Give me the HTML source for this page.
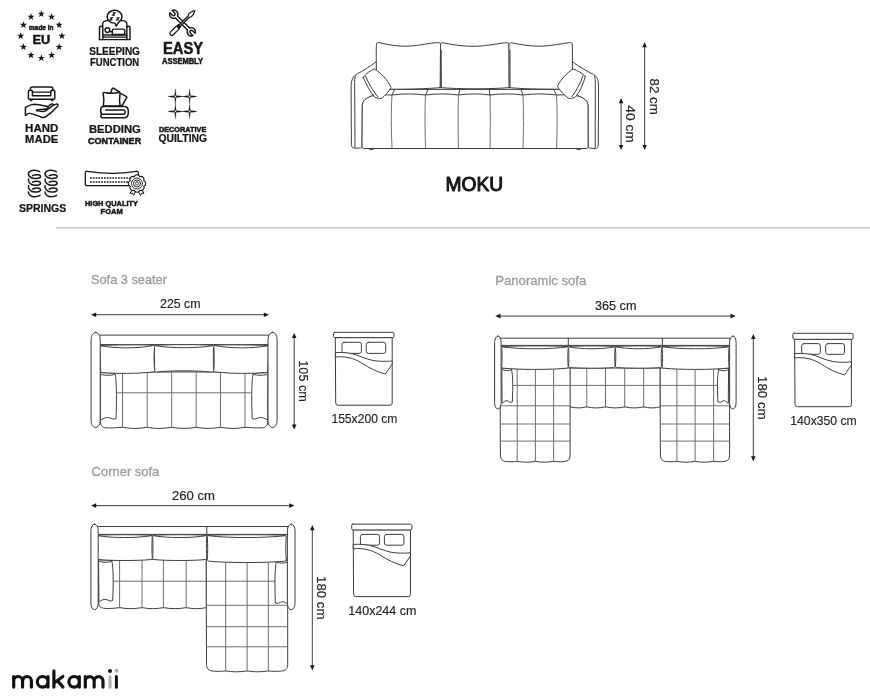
<!DOCTYPE html>
<html>
<head>
<meta charset="utf-8">
<title>MOKU</title>
<style>
html,body{margin:0;padding:0;background:#fff;}
body{width:870px;height:700px;overflow:hidden;font-family:"Liberation Sans",sans-serif;}
svg{display:block;position:absolute;left:0;top:0;will-change:transform;}
text{font-family:"Liberation Sans",sans-serif;}
.ic{fill:#161616;font-weight:bold;stroke:#161616;stroke-width:0.22;stroke-linejoin:round;}
.hv{stroke-width:0.5;}
.dim{fill:#262626;font-size:13.6px;stroke:#262626;stroke-width:0.18;}
.ttl{fill:#9c9c9c;font-size:12.8px;stroke:#9c9c9c;stroke-width:0.32;}
.ln{fill:none;stroke:#3e3e3e;stroke-width:1;stroke-linecap:round;stroke-linejoin:round;}
.ln2{fill:none;stroke:#6e6e6e;stroke-width:1;stroke-linecap:round;stroke-linejoin:round;}
.wf{fill:#fff;stroke:#3e3e3e;stroke-width:1;stroke-linecap:round;stroke-linejoin:round;}
.ar{fill:none;stroke:#2a2a2a;stroke-width:0.9;}
.ah{fill:#1c1c1c;stroke:none;}
.ik{fill:none;stroke:#161616;stroke-linecap:round;stroke-linejoin:round;}
</style>
</head>
<body>
<svg width="870" height="700" viewBox="0 0 870 700">
<rect x="0" y="0" width="870" height="700" fill="#ffffff"/>

<!-- divider -->
<line x1="56" y1="227.7" x2="870" y2="227.7" stroke="#c9c9c9" stroke-width="1.6"/>

<!-- ===== TEXT: feature icons ===== -->
<g id="t-icons">
<text class="ic hv" x="29.1" y="30.3" font-size="6.6" textLength="24.4" lengthAdjust="spacingAndGlyphs">made in</text>
<text class="ic hv" x="32.4" y="44.3" font-size="13.5" textLength="17.8" lengthAdjust="spacingAndGlyphs">EU</text>
<text class="ic" x="89.3" y="54.7" font-size="10.5" textLength="50.6" lengthAdjust="spacingAndGlyphs">SLEEPING</text>
<text class="ic" x="90" y="65.7" font-size="10.5" textLength="49.2" lengthAdjust="spacingAndGlyphs">FUNCTION</text>
<text class="ic hv" x="162.9" y="53.9" font-size="16.4" textLength="40.2" lengthAdjust="spacingAndGlyphs">EASY</text>
<text class="ic hv" x="162" y="63.6" font-size="8.3" textLength="41" lengthAdjust="spacingAndGlyphs">ASSEMBLY</text>
<text class="ic" x="25.1" y="131.6" font-size="10.4" textLength="33.3" lengthAdjust="spacingAndGlyphs">HAND</text>
<text class="ic" x="25.1" y="142.7" font-size="10.4" textLength="33.3" lengthAdjust="spacingAndGlyphs">MADE</text>
<text class="ic" x="88.9" y="133.3" font-size="10.8" textLength="51.9" lengthAdjust="spacingAndGlyphs">BEDDING</text>
<text class="ic hv" x="88" y="143.9" font-size="9.2" textLength="53.2" lengthAdjust="spacingAndGlyphs">CONTAINER</text>
<text class="ic hv" x="158.9" y="131.6" font-size="7.4" textLength="47.4" lengthAdjust="spacingAndGlyphs">DECORATIVE</text>
<text class="ic" x="158.4" y="142.3" font-size="10.7" textLength="48.7" lengthAdjust="spacingAndGlyphs">QUILTING</text>
<text class="ic" x="18.9" y="212.4" font-size="11.4" textLength="47.3" lengthAdjust="spacingAndGlyphs">SPRINGS</text>
<text class="ic hv" x="85" y="205.6" font-size="7.9" textLength="52.9" lengthAdjust="spacingAndGlyphs">HIGH QUALITY</text>
<text class="ic hv" x="100.6" y="214.2" font-size="7.9" textLength="22.3" lengthAdjust="spacingAndGlyphs">FOAM</text>
</g>

<!-- ===== TEXT: titles and dimensions ===== -->
<g id="t-main">
<text x="445.5" y="190.9" font-size="20" font-weight="normal" fill="#161616" stroke="#161616" stroke-width="1.05" stroke-linejoin="round" textLength="57.6" lengthAdjust="spacingAndGlyphs">MOKU</text>

<text class="dim" transform="translate(650.2,78.5) rotate(90)" textLength="36.4" lengthAdjust="spacingAndGlyphs">82 cm</text>
<text class="dim" transform="translate(626,105.2) rotate(90)" textLength="37.7" lengthAdjust="spacingAndGlyphs">40 cm</text>

<text class="ttl" x="91" y="283.8" textLength="75.9" lengthAdjust="spacingAndGlyphs">Sofa 3 seater</text>
<text class="dim" x="160" y="308.2" textLength="40.6" lengthAdjust="spacingAndGlyphs">225 cm</text>
<text class="dim" transform="translate(299,360.3) rotate(90)" textLength="41.6" lengthAdjust="spacingAndGlyphs">105 cm</text>
<text class="dim" x="331.4" y="422.9" textLength="66" lengthAdjust="spacingAndGlyphs">155x200 cm</text>

<text class="ttl" x="495.3" y="285.3" textLength="91" lengthAdjust="spacingAndGlyphs">Panoramic sofa</text>
<text class="dim" x="595" y="310.2" textLength="41.4" lengthAdjust="spacingAndGlyphs">365 cm</text>
<text class="dim" transform="translate(758.2,376.1) rotate(90)" textLength="43.5" lengthAdjust="spacingAndGlyphs">180 cm</text>
<text class="dim" x="790.3" y="424.5" textLength="66.4" lengthAdjust="spacingAndGlyphs">140x350 cm</text>

<text class="ttl" x="91.6" y="476.3" textLength="67.7" lengthAdjust="spacingAndGlyphs">Corner sofa</text>
<text class="dim" x="172" y="500.2" textLength="43" lengthAdjust="spacingAndGlyphs">260 cm</text>
<text class="dim" transform="translate(316.9,576.1) rotate(90)" textLength="43.3" lengthAdjust="spacingAndGlyphs">180 cm</text>
<text class="dim" x="348.3" y="615.0" textLength="68.1" lengthAdjust="spacingAndGlyphs">140x244 cm</text>
</g>

<!-- ===== ARROWS ===== -->
<g id="arrows">
<!-- 82 cm -->
<line class="ar" x1="644.6" y1="45" x2="644.6" y2="147"/>
<path class="ah" d="M644.6 42.1 l2.3 5.2 h-4.6z M644.6 150.1 l2.3 -5.2 h-4.6z"/>
<!-- 40 cm -->
<line class="ar" x1="621.1" y1="101" x2="621.1" y2="147"/>
<path class="ah" d="M621.1 98 l2.3 5.2 h-4.6z M621.1 150.1 l2.3 -5.2 h-4.6z"/>
<!-- 225 cm -->
<line class="ar" x1="94" y1="314.7" x2="266" y2="314.7"/>
<path class="ah" d="M91 314.7 l5.2 -2.3 v4.6z M269 314.7 l-5.2 -2.3 v4.6z"/>
<!-- 105 cm -->
<line class="ar" x1="294.2" y1="336" x2="294.2" y2="427"/>
<path class="ah" d="M294.2 332.9 l2.3 5.2 h-4.6z M294.2 429.7 l2.3 -5.2 h-4.6z"/>
<!-- 365 cm -->
<line class="ar" x1="498" y1="316.1" x2="733" y2="316.1"/>
<path class="ah" d="M495.3 316.1 l5.2 -2.3 v4.6z M735.7 316.1 l-5.2 -2.3 v4.6z"/>
<!-- 180 cm (panoramic) -->
<line class="ar" x1="753.3" y1="337" x2="753.3" y2="458"/>
<path class="ah" d="M753.3 333.9 l2.3 5.2 h-4.6z M753.3 461.4 l2.3 -5.2 h-4.6z"/>
<!-- 260 cm -->
<line class="ar" x1="94" y1="505.6" x2="291" y2="505.6"/>
<path class="ah" d="M91 505.6 l5.2 -2.3 v4.6z M294.4 505.6 l-5.2 -2.3 v4.6z"/>
<!-- 180 cm (corner) -->
<line class="ar" x1="312.3" y1="528" x2="312.3" y2="667"/>
<path class="ah" d="M312.3 525.1 l2.3 5.2 h-4.6z M312.3 670.4 l2.3 -5.2 h-4.6z"/>
</g>

<g id="sofa-front">
<!-- arms outer -->
<path class="wf" d="M376.3 61.6 C370 66.5 362 71.5 357.6 73.6 C353.2 75.8 351.2 80 351.1 86 L351.4 144.6 C351.5 147 352.6 148.1 354.6 148.2 L360.6 148 C361.6 147.9 362 147.2 362 146.2 L362.3 106 C362.4 102 364 99.5 369.7 96.8 L372 95.5 L376.3 88 Z"/>
<path class="ln" d="M355.2 76.2 C354.4 80 354.6 84 354.7 90 L355 147.5"/>
<path class="wf" d="M572.3 61.6 C578.5 66.5 588 71.8 593.7 74.6 C597.3 76.6 598.5 80 598.5 86 L598.3 144.8 C598.2 147.4 597.2 148.5 595.6 148.7 L589.4 148 C588.4 147.8 588.1 147.1 588.1 146.2 L588 106 C587.9 102 586 99.5 580.4 96.8 L578 95.5 L572.3 88 Z"/>
<path class="ln" d="M594.6 76 C595.5 80 595.3 84 595.3 90 L595.2 147.8"/>
<!-- seat body -->
<path class="wf" d="M362.3 106 C362.4 101.5 364.5 99.2 369.7 96.8 C374 94.9 380 94.6 392 95 C403 93.6 414 93.6 425.5 95 C437 93.6 448 93.6 458.5 95 C469 93.6 480 93.6 490 95 C501 93.6 512 93.6 523 95 C534 93.6 545 93.6 556.5 95 C566 94.6 575 94.8 580.4 96.8 C586 99.4 587.9 101.8 588 106 L588.1 146.4 C588.1 147.9 587.4 148.5 586 148.5 L364.2 148.5 C362.8 148.5 362 147.9 362 146.4 Z"/>
<!-- seat top surface -->
<path class="ln" d="M388.5 89.4 L561 89.4"/>
<path class="ln" d="M388.5 89.4 L383 94.8 M561 89.4 L567.5 94.8"/>
<path class="ln" d="M394.6 89.4 L392 95 M428 89.4 L425.5 95 M460 89.4 L458.5 95 M489.2 89.4 L490 95 M520.8 89.4 L523 95 M553.6 89.4 L556.5 95"/>
<!-- vertical seams -->
<path class="ln2" d="M392 95 C391 110 391.2 130 392 147.6 M425.5 95 C424.8 110 424.9 130 425.6 147.6 M458.5 95 C458 110 458 130 458.4 147.6 M490 95 C490.4 110 490.4 130 490 147.6 M523 95 C523.6 110 523.6 130 523 147.6 M556.5 95 C557.4 110 557.3 130 556.6 147.6"/>
<!-- feet -->
<path class="ln" d="M368.5 148.6 C368.8 150.2 374 150.2 374.4 148.6 M575.8 148.6 C576.2 150.2 581.4 150.2 581.8 148.6"/>
<!-- back cushions -->
<path class="wf" d="M376.3 88.4 L376.3 66 C376.3 55 376.1 47 376.5 44 C376.8 42.3 378 42.4 380 42.8 C390 45.2 398 46.4 408 46.2 C420 45.8 430 42.6 438.5 42.6 C440 42.6 440.5 43.4 440.5 45 L440.3 87.6 C430 88.8 400 89.4 391 89.2"/>
<path class="wf" d="M440.3 87.6 L440.5 45 C440.6 43.2 441.4 42.6 443 42.8 C452 44.6 462 46.4 474 46.3 C487 46.2 498 43.2 506.8 42.7 C508.4 42.6 509 43.4 509 45 L509.2 87.6 C490 89.2 460 89.2 440.3 87.6 Z"/>
<path class="wf" d="M509.2 87.6 L509 45 C509 43.2 509.8 42.6 511.4 42.8 C521 44.6 530 46.4 541 46.2 C552 45.9 562 43.4 569.6 42.6 C571.6 42.4 572.3 43 572.4 45 L572.3 88.4 L557.5 89.2 C540 89.2 520 88.8 509.2 87.6 Z"/>
<path class="ln" d="M441.2 50 L441.4 87 M510 50 L510 87"/>
<!-- side pillows -->
<path class="wf" d="M363.2 77.3 C366 73.5 371 70.2 374.3 69 C380 72 388.5 80.5 391 87.6 C389 91 384.5 96.4 381.8 98.3 C379 98.8 376.4 98.2 374.4 96.8 C370 91.5 365.4 83 363.2 77.3 Z"/>
<path class="ln" d="M365.6 76.4 C368.6 83.4 372.6 90.4 377.6 96.6"/>
<path class="wf" d="M585.3 76.4 C582.4 73 577 70.2 573.3 69 C567.6 72.2 560 80 557.5 86.6 C559.4 90.4 565.6 96.4 568.6 98.3 C571 98.8 573.6 98.2 575.6 96.8 C580 91.4 583.6 83.4 585.3 76.4 Z"/>
<path class="ln" d="M583 75.8 C580.4 83.4 576.4 90.6 571.8 96.8"/>
</g>
<!--SOFA-FRONT-END-->
<g id="sofa-3s">
<!-- back rail -->
<path class="wf" d="M99.5 335.1 L268.6 335.1 L268.6 344.6 L99.5 344.6 Z"/>
<!-- seat body -->
<path class="wf" d="M100.4 372 L267.8 372 L267.8 421 C267.8 425.5 266 427.6 262 427.8 C256 428.2 250 427.6 245 427.3 C237 428.8 229 428.8 220.5 427.3 C212 428.8 204 428.8 196.2 427.3 C188 428.8 180 428.8 171.7 427.3 C163 428.8 155 428.8 147.2 427.3 C139 428.8 131 428.8 122.5 427.3 C116 427.8 110 428.2 106 427.8 C102 427.6 100.4 425.5 100.4 421 Z"/>
<!-- grid -->
<path class="ln2" d="M122.5 373 L122.5 427 M147.2 373 L147.2 427 M171.7 373 L171.7 427 M196.2 373 L196.2 427 M220.5 373 L220.5 427 M245 373 L245 427"/>
<path class="ln2" d="M116.5 392.8 L251.8 392.8"/>
<!-- side pillows -->
<path class="wf" d="M100.6 372.6 L115 373.2 C116.6 380 116.8 400 116 418.6 C113.4 419.8 111.6 418.4 108.6 417.6 C105.6 417.2 103 418.6 100.8 420 Z"/>
<path class="ln" d="M101.4 374.6 C106 375.6 111 375.6 114.6 374.4"/>
<path class="wf" d="M267.7 372.6 L253.2 373.2 C251.6 380 251.4 400 252.2 418.6 C254.8 419.8 256.6 418.4 259.6 417.6 C262.6 417.2 265.2 418.6 267.5 420 Z"/>
<path class="ln" d="M266.8 374.6 C262.2 375.6 257.2 375.6 253.6 374.4"/>
<!-- back cushions -->
<path class="wf" d="M99.8 345.6 C115 344.8 140 344.6 153.6 345.2 C154.8 345.4 154.6 347 154.4 349 C154 356 154 364 154.6 370.4 C154.6 371.4 154 371.8 152.6 372 C137 373.8 116 373.8 100.8 372.4 C100.4 364 100 354 99.8 345.6 Z"/>
<path class="ln" d="M100.6 345.8 C116 348.6 138 348.6 153.4 345.6"/>
<path class="wf" d="M155.4 345.3 C172 344.4 197 344.4 212.6 345.3 C213.8 345.4 213.6 347 213.5 349 C213.2 356 213.2 364 213.7 370.4 C213.8 371.6 213 372 211.8 372.1 C196 370.4 172 370.4 156.4 372 C155.2 372 154.8 371.6 154.8 370.4 C154.3 364 154.4 356 154.6 349 C154.6 347 154.4 345.4 155.4 345.3 Z"/>
<path class="ln" d="M155.8 345.8 C172 348.4 197 348.4 212.4 345.8"/>
<path class="wf" d="M214.6 345.2 C230 344.6 254 344.8 268.4 345.6 C268.4 354 268 364 267.6 372.4 C252 373.8 231 373.8 215.6 372 C214.4 371.8 213.8 371.4 213.8 370.4 C214.3 364 214.2 356 214 349 C213.8 347 213.6 345.4 214.6 345.2 Z"/>
<path class="ln" d="M214.8 345.6 C230 348.6 253 348.6 267.8 345.8"/>
<!-- arms -->
<rect class="wf" x="91.1" y="332.3" width="9.1" height="95.3" rx="4.5" ry="7"/>
<rect class="wf" x="268" y="332.3" width="9.1" height="95.3" rx="4.5" ry="7"/>
</g>
<!--SOFA-3SEATER-END-->
<g id="sofa-pano">
<path class="wf" d="M500.6 338.2 L730.2 338.2 L730.2 345.4 L500.6 345.4 Z"/>
<path class="ln" d="M568.3 338.2 L568.3 345.4 M662.4 338.2 L662.4 345.4"/>
<path class="wf" d="M570.1 368 L660.4 368 L660.4 406.8 C655.4 408.3 648.7 408.3 643.7 406.8 C638.0 408.3 630.4 408.3 624.7 406.8 C618.9 408.3 611.3 408.3 605.5 406.8 C599.9 408.3 592.4 408.3 586.8 406.8 C581.8 408.3 575.1 408.3 570.1 406.8 Z"/>
<path class="ln2" d="M586.8 369.0 L586.8 407.4 M605.5 369.0 L605.5 407.4 M624.7 369.0 L624.7 407.4 M643.7 369.0 L643.7 407.4 M570.1 385.4 L660.4 385.4"/>
<path class="wf" d="M500.4 368 L570.1 368 L570.1 455.5 C570.1 459.5 568 461.3 564.5 461.5 C561 461.9 557 461.9 553.6 461.3 C548.1 462.5 540.9 462.5 535.4 461.3 C529.9 462.5 522.7 462.5 517.2 461.3 C513.5 461.9 509.5 461.9 506 461.5 C502.5 461.3 500.4 459.5 500.4 455.5 Z"/>
<path class="ln2" d="M517.2 369.0 L517.2 461.5 M535.4 369.0 L535.4 461.5 M553.6 369.0 L553.6 461.5"/>
<path class="ln2" d="M513.0 385.4 L570.1 385.4"/>
<path class="ln2" d="M500.8 405.8 L569.8 405.8 M500.8 424.0 L569.8 424.0 M500.8 441.1 L569.8 441.1"/>
<path class="wf" d="M660.4 368 L729.6 368 L729.6 455.5 C729.6 459.5 727.5 461.3 724 461.5 C720.5 461.9 717 461.9 713.6 461.3 C708.1 462.5 700.6 462.5 695.1 461.3 C689.6 462.5 682.4 462.5 676.9 461.3 C673.4 461.9 669.5 461.9 666 461.5 C662.5 461.3 660.4 459.5 660.4 455.5 Z"/>
<path class="ln2" d="M676.9 369.0 L676.9 461.5 M695.1 369.0 L695.1 461.5 M713.6 369.0 L713.6 461.5"/>
<path class="ln2" d="M660.4 385.4 L717.4 385.4"/>
<path class="ln2" d="M660.8 405.8 L729.3 405.8 M660.8 424.0 L729.3 424.0 M660.8 441.1 L729.3 441.1"/>
<path class="wf" d="M502.2 368.2 L511.4 368.7 C512.9 376.2 513.1 384.5 512.3 401.9 C510.0 403.0 508.1 401.5 507.4 400.7 C505.3 400.3 503.8 401.9 502.4 403.1 Z"/>
<path class="ln" d="M503.0 370.0 C505.8 371.0 509.5 371.0 511.2 369.8"/>
<path class="wf" d="M728.2 368.2 L718.8 368.7 C717.3 376.2 717.1 384.5 717.9 401.9 C720.2 403.0 722.1 401.5 722.9 400.7 C725.0 400.3 726.6 401.9 728.0 403.1 Z"/>
<path class="ln" d="M727.4 370.0 C724.5 371.0 720.8 371.0 719.0 369.8"/>
<path class="wf" d="M502.3 346.5 C518.3 345.7 551.6 345.7 567.6 346.5 C568.2 346.7 568.2 347.7 568.1 349.2 C567.7 355.0 567.7 361.6 568.2 366.6 C568.2 367.6 567.6 368.0 566.4 368.2 C551.6 369.8 518.3 369.8 503.5 368.2 C502.3 368.0 501.7 367.6 501.7 366.6 C502.2 361.6 502.2 355.0 501.8 349.2 C501.7 347.7 501.7 346.7 502.3 346.5 Z"/>
<path class="ln" d="M502.5 346.9 C520.3 349.4 549.6 349.4 567.4 346.9"/>
<path class="wf" d="M569.1 346.5 C580.1 345.7 603.5 345.7 614.5 346.5 C615.1 346.7 615.1 347.7 615.0 349.2 C614.6 354.8 614.6 361.2 615.1 366.0 C615.1 367.0 614.5 367.4 613.3 367.6 C603.5 368.4 580.1 368.4 570.3 367.6 C569.1 367.4 568.5 367.0 568.5 366.0 C569.0 361.2 569.0 354.8 568.6 349.2 C568.5 347.7 568.5 346.7 569.1 346.5 Z"/>
<path class="ln" d="M569.3 346.9 C581.5 349.4 602.1 349.4 614.3 346.9"/>
<path class="wf" d="M616.0 346.5 C627.0 345.7 650.0 345.7 661.0 346.5 C661.6 346.7 661.6 347.7 661.5 349.2 C661.1 354.8 661.1 361.2 661.6 366.0 C661.6 367.0 661.0 367.4 659.8 367.6 C650.0 368.4 627.0 368.4 617.2 367.6 C616.0 367.4 615.4 367.0 615.4 366.0 C615.9 361.2 615.9 354.8 615.5 349.2 C615.4 347.7 615.4 346.7 616.0 346.5 Z"/>
<path class="ln" d="M616.2 346.9 C628.3 349.4 648.7 349.4 660.8 346.9"/>
<path class="wf" d="M662.8 346.5 C678.9 345.7 712.3 345.7 728.4 346.5 C729.0 346.7 729.0 347.7 728.9 349.2 C728.5 355.0 728.5 361.6 729.0 366.6 C729.0 367.6 728.4 368.0 727.2 368.2 C712.3 369.8 678.9 369.8 664.0 368.2 C662.8 368.0 662.2 367.6 662.2 366.6 C662.7 361.6 662.7 355.0 662.3 349.2 C662.2 347.7 662.2 346.7 662.8 346.5 Z"/>
<path class="ln" d="M663.0 346.9 C680.9 349.4 710.3 349.4 728.2 346.9"/>
<rect class="wf" x="494.6" y="336.1" width="6.5" height="72.9" rx="3.2" ry="6.5"/>
<rect class="wf" x="729.6" y="336.1" width="6.5" height="72.9" rx="3.2" ry="6.5"/>
</g>
<!--SOFA-PANORAMIC-END-->
<g id="sofa-corner">
<path class="wf" d="M97.6 526.5 L288 526.5 L288 534.4 L97.6 534.4 Z"/>
<path class="ln" d="M206.8 526.5 L206.8 534.4"/>
<path class="wf" d="M98.6 559.4 L206.5 559.4 L206.5 607.6 C200.4 609.0 192.3 609.0 186.2 607.6 C179.4 609.0 170.2 609.0 163.4 607.6 C157.0 609.0 148.4 609.0 142.0 607.6 C135.3 609.0 126.3 609.0 119.6 607.6 C113 608.6 107 608.8 103.6 608.2 C100.2 607.8 98.6 606 98.6 602.6 Z"/>
<path class="ln2" d="M119.6 560.4 L119.6 608.0 M142.0 560.4 L142.0 608.0 M163.4 560.4 L163.4 608.0 M186.2 560.4 L186.2 608.0"/>
<path class="ln2" d="M113.4 581.2 L206.5 581.2"/>
<path class="wf" d="M206.5 559.4 L287.7 559.4 L287.7 664.5 C287.7 668.8 285.4 670.8 281.6 671 C277 671.5 272.5 671.5 268.3 670.9 C261.9 672.1 253.5 672.1 247.1 670.9 C240.7 672.1 232.1 672.1 225.7 670.9 C221.5 671.5 217 671.5 212.6 671 C208.8 670.8 206.5 668.8 206.5 664.5 Z"/>
<path class="ln2" d="M225.7 560.4 L225.7 671.2 M247.1 560.4 L247.1 671.2 M268.3 560.4 L268.3 671.2"/>
<path class="ln2" d="M206.5 581.2 L274.8 581.2"/>
<path class="ln2" d="M206.9 605.3 L287.4 605.3 M206.9 626.7 L287.4 626.7 M206.9 646.8 L287.4 646.8"/>
<path class="wf" d="M99.0 559.8 L111.8 560.3 C113.3 567.8 113.5 583.2 112.7 600.6 C110.4 601.7 108.5 600.2 106.0 599.4 C103.2 599.0 100.6 600.6 99.2 601.8 Z"/>
<path class="ln" d="M99.8 561.6 C103.9 562.6 108.8 562.6 111.6 561.4"/>
<path class="wf" d="M288.0 560.6 L276.3 561.1 C274.8 568.6 274.6 585.6 275.4 603.0 C277.7 604.1 279.6 602.6 281.6 601.8 C284.1 601.4 286.4 603.0 287.8 604.2 Z"/>
<path class="ln" d="M287.2 562.4 C283.5 563.4 279.0 563.4 276.5 562.2"/>
<path class="wf" d="M97.4 535.3 C110.7 534.5 138.4 534.5 151.7 535.3 C152.3 535.5 152.3 536.5 152.2 538.0 C151.8 544.8 151.8 552.2 152.3 558.0 C152.3 559.0 151.7 559.4 150.5 559.6 C138.4 560.8 110.7 560.8 98.6 559.6 C97.4 559.4 96.8 559.0 96.8 558.0 C97.3 552.2 97.3 544.8 96.9 538.0 C96.8 536.5 96.8 535.5 97.4 535.3 Z"/>
<path class="ln" d="M97.6 535.7 C112.3 538.2 136.8 538.2 151.5 535.7"/>
<path class="wf" d="M153.2 535.3 C166.2 534.5 193.2 534.5 206.2 535.3 C206.8 535.5 206.8 536.5 206.7 538.0 C206.3 544.8 206.3 552.2 206.8 558.0 C206.8 559.0 206.2 559.4 205.0 559.6 C193.2 560.8 166.2 560.8 154.4 559.6 C153.2 559.4 152.6 559.0 152.6 558.0 C153.1 552.2 153.1 544.8 152.7 538.0 C152.6 536.5 152.6 535.5 153.2 535.3 Z"/>
<path class="ln" d="M153.4 535.7 C167.8 538.2 191.6 538.2 206.0 535.7"/>
<path class="wf" d="M207.9 535.3 C227.0 534.5 266.5 534.5 285.6 535.3 C286.2 535.5 286.2 536.5 286.1 538.0 C285.7 545.5 285.7 553.3 286.2 559.6 C286.2 560.6 285.6 561.0 284.4 561.2 C266.5 563.0 227.0 563.0 209.1 561.2 C207.9 561.0 207.3 560.6 207.3 559.6 C207.8 553.3 207.8 545.5 207.4 538.0 C207.3 536.5 207.3 535.5 207.9 535.3 Z"/>
<path class="ln" d="M208.1 535.7 C229.4 538.2 264.1 538.2 285.4 535.7"/>
<rect class="wf" x="90.9" y="524.1" width="7.3" height="85.6" rx="3.6" ry="6.5"/>
<rect class="wf" x="287.4" y="524.1" width="7.6" height="85.6" rx="3.8" ry="6.5"/>
</g>
<!--SOFA-CORNER-END-->
<g id="beds">
<path class="wf" d="M335.7 337.6 L392.2 337.6 L392.2 403.0 Q392.2 405.2 390.0 405.2 L337.9 405.2 Q335.7 405.2 335.7 403.0 Z"/>
<rect class="wf" x="333.5" y="332.3" width="60.5" height="5.3" rx="1.2"/>
<rect class="wf" x="342.0" y="342.3" width="19.4" height="11.1" rx="2.2"/>
<rect class="wf" x="366.2" y="342.3" width="19.5" height="11.1" rx="2.2"/>
<path class="wf" d="M335.7 352.6 C342.5 352.2 349.8 352.6 356.0 354.8 C363.9 357.8 370.7 360.8 378.6 361.2 C384.3 361.5 388.8 361.3 392.2 361.0 L392.2 364.0 L385.4 374.0 C377.5 372.2 369.6 368.2 361.7 363.0 C353.8 358.0 344.7 356.0 335.7 357.0 Z"/>
<path class="wf" d="M795.0 339.3 L851.4 339.3 L851.4 404.5 Q851.4 406.7 849.2 406.7 L797.2 406.7 Q795.0 406.7 795.0 404.5 Z"/>
<rect class="wf" x="792.9" y="333.3" width="60.2" height="6.0" rx="1.2"/>
<rect class="wf" x="801.7" y="343.6" width="18.6" height="10.7" rx="2.2"/>
<rect class="wf" x="825.7" y="343.6" width="18.8" height="10.7" rx="2.2"/>
<path class="wf" d="M795.0 353.5 C801.8 353.1 809.1 353.5 815.3 355.7 C823.2 358.7 830.0 361.7 837.9 362.1 C843.5 362.4 848.0 362.2 851.4 361.9 L851.4 364.9 L844.6 374.9 C836.7 373.1 828.8 369.1 820.9 363.9 C813.0 358.9 804.0 356.9 795.0 357.9 Z"/>
<path class="wf" d="M353.6 529.9 L410.5 529.9 L410.5 594.4 Q410.5 596.6 408.3 596.6 L355.8 596.6 Q353.6 596.6 353.6 594.4 Z"/>
<rect class="wf" x="351.7" y="524.1" width="60.2" height="5.8" rx="1.2"/>
<rect class="wf" x="360.4" y="534.4" width="19.2" height="10.8" rx="2.2"/>
<rect class="wf" x="384.4" y="534.4" width="19.5" height="10.8" rx="2.2"/>
<path class="wf" d="M353.6 544.4 C360.4 544.0 367.8 544.4 374.1 546.6 C382.1 549.6 388.9 552.6 396.8 553.0 C402.5 553.3 407.1 553.1 410.5 552.8 L410.5 555.8 L403.7 565.8 C395.7 564.0 387.7 560.0 379.8 554.8 C371.8 549.8 362.7 547.8 353.6 548.8 Z"/>
</g>
<!--BEDS-END-->
<g id="icons">
<path fill="#161616" d="M41.30 10.15 L42.18 12.69 L44.87 12.74 L42.73 14.36 L43.50 16.93 L41.30 15.40 L39.10 16.93 L39.87 14.36 L37.73 12.74 L40.42 12.69Z M51.60 13.11 L52.48 15.65 L55.17 15.70 L53.03 17.32 L53.80 19.89 L51.60 18.36 L49.40 19.89 L50.17 17.32 L48.03 15.70 L50.72 15.65Z M59.14 21.20 L60.02 23.74 L62.71 23.79 L60.57 25.41 L61.34 27.98 L59.14 26.45 L56.94 27.98 L57.71 25.41 L55.57 23.79 L58.26 23.74Z M61.90 32.25 L62.78 34.79 L65.47 34.84 L63.33 36.46 L64.10 39.03 L61.90 37.50 L59.70 39.03 L60.47 36.46 L58.33 34.84 L61.02 34.79Z M59.14 43.30 L60.02 45.84 L62.71 45.89 L60.57 47.51 L61.34 50.08 L59.14 48.55 L56.94 50.08 L57.71 47.51 L55.57 45.89 L58.26 45.84Z M51.60 51.39 L52.48 53.93 L55.17 53.98 L53.03 55.60 L53.80 58.17 L51.60 56.64 L49.40 58.17 L50.17 55.60 L48.03 53.98 L50.72 53.93Z M41.30 54.35 L42.18 56.89 L44.87 56.94 L42.73 58.56 L43.50 61.13 L41.30 59.60 L39.10 61.13 L39.87 58.56 L37.73 56.94 L40.42 56.89Z M31.00 51.39 L31.88 53.93 L34.57 53.98 L32.43 55.60 L33.20 58.17 L31.00 56.64 L28.80 58.17 L29.57 55.60 L27.43 53.98 L30.12 53.93Z M23.46 43.30 L24.34 45.84 L27.03 45.89 L24.89 47.51 L25.66 50.08 L23.46 48.55 L21.26 50.08 L22.03 47.51 L19.89 45.89 L22.58 45.84Z M20.70 32.25 L21.58 34.79 L24.27 34.84 L22.13 36.46 L22.90 39.03 L20.70 37.50 L18.50 39.03 L19.27 36.46 L17.13 34.84 L19.82 34.79Z M23.46 21.20 L24.34 23.74 L27.03 23.79 L24.89 25.41 L25.66 27.98 L23.46 26.45 L21.26 27.98 L22.03 25.41 L19.89 23.79 L22.58 23.74Z M31.00 13.11 L31.88 15.65 L34.57 15.70 L32.43 17.32 L33.20 19.89 L31.00 18.36 L28.80 19.89 L29.57 17.32 L27.43 15.70 L30.12 15.65Z"/>
<g class="ik" stroke-width="1.45">
<path d="M102.6 27 L102.6 24.6 C102.6 22 104.6 20.6 107.4 20.6 L122 20.6 C124.8 20.6 126.9 22 126.9 24.6 L126.9 27"/>
<path d="M99.5 39.6 L99.5 27.6 C99.5 26.6 100 26.2 101 26.2 L101.6 26.2 C102.4 26.2 102.8 26.6 102.8 27.6 L102.8 39.6"/>
<path d="M126.8 39.6 L126.8 27.6 C126.8 26.6 127.3 26.2 128.2 26.2 L128.8 26.2 C129.7 26.2 130 26.6 130 27.6 L130 39.6"/>
<path d="M102.8 35 L126.8 35 M102.8 37.1 L126.8 37.1 M99.5 39.6 L130 39.6"/>
<circle cx="107.4" cy="30.1" r="2.35" fill="#fff"/>
<path d="M112.4 35 L112.4 30.6 C112.4 29.6 113 29.1 114 29.1 L123 29.1 C124.2 29.1 124.8 29.8 124.8 30.8 L124.8 33 C124.8 34 124.2 34.5 123 34.5 L112.4 34.5" fill="#fff"/>
<path d="M109.6 31.2 L112.4 32"/>
<path d="M114.9 23.1 A7.4 6.4 0 1 1 119.2 21.7 L116.1 26.2 Z" fill="#fff"/>
</g>
<path fill="none" stroke="#161616" stroke-width="1.15" stroke-linejoin="miter" d="M112.70 12.90 L114.90 12.90 L112.70 15.10 L114.90 15.10 M110.10 17.70 L112.30 17.70 L110.10 19.90 L112.30 19.90 M116.60 17.70 L118.80 17.70 L116.60 19.90 L118.80 19.90 "/>
<g class="ik" stroke-width="1.4">
<path transform="translate(182.5,23.0) rotate(45) rotate(0)" d="M-8.56 -1.45 A4.1 4.1 0 0 0 -16.20 -1.55 L-12.60 -1.55 A1.55 1.55 0 0 1 -12.60 1.55 L-16.20 1.55 A4.1 4.1 0 0 0 -8.56 1.45 L8.56 1.45 A4.1 4.1 0 0 0 16.20 1.55 L12.60 1.55 A1.55 1.55 0 0 1 12.60 -1.55 L16.20 -1.55 A4.1 4.1 0 0 0 8.56 -1.45 Z"/>
<path transform="translate(170.5,34.7) rotate(-44.8)" d="M1.95 -2 L9.6 -2 L10.4 -1.55 L12.6 -1.55 L12.6 -0.9 L25.6 -0.9 C26.8 -2.1 28.4 -2.2 29.8 -1.8 C31.8 -1.2 33.8 -0.6 34.2 0 C33.8 0.6 31.8 1.2 29.8 1.8 C28.4 2.2 26.8 2.1 25.6 0.9 L12.6 0.9 L12.6 1.55 L10.4 1.55 L9.6 2 L1.95 2 A2 2 0 0 1 1.95 -2 Z" fill="#fff" stroke-width="1.25"/>
<path transform="translate(170.5,34.7) rotate(-44.8)" d="M10.4 -1.55 L10.4 1.55 M11.5 -1.55 L11.5 1.55 M12.6 -0.9 L12.6 0.9" stroke-width="1.1"/>
</g>
<g class="ik" stroke-width="1.45">
<path d="M30.4 90.3 L30.4 88.6 C30.4 87.4 31.2 86.9 32.4 86.9 L50.8 86.9 C52 86.9 52.8 87.4 52.8 88.6 L52.8 90.3"/>
<path d="M28.4 98.2 L28.4 91.4 C28.4 90.6 28.9 90.2 29.8 90.2 L31 90.2 C31.9 90.2 32.4 90.6 32.4 91.4 L32.4 95.8 L50.8 95.8 L50.8 91.4 C50.8 90.6 51.3 90.2 52.2 90.2 L53.4 90.2 C54.3 90.2 54.8 90.6 54.8 91.4 L54.8 98.2 C54.8 98.9 54.4 99.2 53.6 99.2 L29.6 99.2 C28.8 99.2 28.4 98.9 28.4 98.2 Z"/>
<path d="M32.4 92.1 L50.8 92.1"/>
<path d="M30.2 99.3 L30.6 100.6 L31.6 100.6 L32 99.3 M51.2 99.3 L51.6 100.6 L52.6 100.6 L53 99.3"/>
<path d="M25.4 107.3 C28.6 105.4 31.6 104.3 34.6 104.2 C38.6 104.2 43.6 105.6 47.6 106.6 L51.4 104.1 C52.2 103.6 53.2 104 53.4 104.8 L53.5 105.1 L56.3 104.1 C57.8 103.7 58.6 105.1 57.6 106.3 C54 110.4 49.6 114.2 45.8 116.7 C44.6 117.5 43.2 117.6 41.8 117.2 C37.4 115.9 32.6 113.6 29.8 113.4 C28 113.3 26.6 114.3 25.4 115.5 Z"/>
<path d="M47.6 106.6 C48.4 107.8 47.8 108.9 46.4 109 L37.2 109.6 C36.2 109.7 36.2 110.8 37.2 110.9 L43.2 111.5 C44.6 111.6 45.6 111.1 46.6 110.2 L53.5 105.1"/>
</g>
<g class="ik" stroke-width="1.5">
<path d="M110.8 92.6 L112 88.9 C112.3 88 113.1 87.9 113.8 88.3 L119.4 92 M120 93.2 L125.8 96.1 C126.9 96.6 127 97.4 126.4 98.2 L122.2 105.4 L120 105.6"/>
<path d="M103.2 93.8 C103 92.8 103.6 92.2 104.6 92.5 C109 93.5 114.6 93.5 118.6 92.6 C119.6 92.4 120.2 92.9 120 93.9 C119.4 97.5 119.4 101.6 120 105.2 C120.1 105.8 119.8 106 119.2 106 L104.2 106 C103.6 106 103.3 105.8 103.4 105.2 C104 101.6 103.9 97.4 103.2 93.8 Z" fill="#fff"/>
<path d="M105.6 109.9 L123.6 109.9 C125.6 109.9 125.6 114.2 123.6 114.2 L102.4 114.2 C100.2 114.2 100.2 117.7 102.4 117.7 L124.6 117.7 C129.6 117.7 129.6 106.4 124.6 106.4 L103.2 106.4 C100 106.4 99.8 113.6 102.4 114.2"/>
</g>
<path fill="#161616" stroke="#161616" stroke-width="0.25" d="M167.90 96.5 Q175.4 94.70 182.90 96.5 Q175.4 98.30 167.90 96.5Z M175.4 88.80 Q173.60 96.5 175.4 104.20 Q177.20 96.5 175.4 88.80Z M167.90 111.4 Q175.4 109.60 182.90 111.4 Q175.4 113.20 167.90 111.4Z M175.4 103.70 Q173.60 111.4 175.4 119.10 Q177.20 111.4 175.4 103.70Z M182.10 96.5 Q189.6 94.70 197.10 96.5 Q189.6 98.30 182.10 96.5Z M189.6 88.80 Q187.80 96.5 189.6 104.20 Q191.40 96.5 189.6 88.80Z M182.10 111.4 Q189.6 109.60 197.10 111.4 Q189.6 113.20 182.10 111.4Z M189.6 103.70 Q187.80 111.4 189.6 119.10 Q191.40 111.4 189.6 103.70Z"/>
<path class="ik" stroke-width="1.5" d="M 39.70 171.60 C 37.00 170.00 31.50 169.60 29.40 171.80 C 27.00 174.50 29.50 178.00 34.60 178.40 C 38.50 178.70 40.80 177.80 40.60 176.40 C 40.40 174.60 36.00 174.00 32.60 175.60 M 28.50 179.00 C 27.60 182.00 31.00 185.20 34.60 185.30 C 38.50 185.40 40.80 184.50 40.60 183.00 C 40.30 181.20 36.00 180.60 32.60 182.10 M 28.50 185.60 C 27.60 189.00 31.00 192.00 34.60 192.10 C 38.50 192.20 40.80 191.20 40.60 189.70 C 40.30 187.80 36.00 187.20 32.60 189.00 M 28.50 192.10 C 28.00 195.00 32.00 196.80 34.60 196.70 C 36.50 196.60 38.50 196.10 40.00 195.30 M 56.30 171.60 C 53.60 170.00 48.10 169.60 46.00 171.80 C 43.60 174.50 46.10 178.00 51.20 178.40 C 55.10 178.70 57.40 177.80 57.20 176.40 C 57.00 174.60 52.60 174.00 49.20 175.60 M 45.10 179.00 C 44.20 182.00 47.60 185.20 51.20 185.30 C 55.10 185.40 57.40 184.50 57.20 183.00 C 56.90 181.20 52.60 180.60 49.20 182.10 M 45.10 185.60 C 44.20 189.00 47.60 192.00 51.20 192.10 C 55.10 192.20 57.40 191.20 57.20 189.70 C 56.90 187.80 52.60 187.20 49.20 189.00 M 45.10 192.10 C 44.60 195.00 48.60 196.80 51.20 196.70 C 53.10 196.60 55.10 196.10 56.60 195.30"/>
<g class="ik" stroke-width="1.3">
<path d="M130 185.7 L87.2 185.7 C85.9 185.7 85.3 185.1 85.3 183.8 L85.3 173 C85.3 171.6 86 171.1 87.4 171.3 C96 172.6 104 173.3 112.2 173.3 C120.4 173.3 128 172.6 136.2 171.3 C137.6 171.1 138.3 171.6 138.3 173 L138.3 175.4"/>
</g>
<path fill="none" stroke="#161616" stroke-width="1.5" stroke-dasharray="1.7 1.1" d="M90 177.9 L130.4 177.9 M90 181.9 L128.8 181.9"/>
<g class="ik" stroke-width="1.0">
<path d="M132.4 189.2 L130.0 193.4 L132.5 193.1 L133.5 195.3 L136.3 190.6 M141.6 189.2 L144.0 193.4 L141.5 193.1 L140.5 195.3 L137.7 190.6" fill="#fff"/>
<path d="M134.19 176.71 A3.0 3.0 0 0 1 139.81 176.71 A3.0 3.0 0 0 1 143.79 180.69 A3.0 3.0 0 0 1 143.79 186.31 A3.0 3.0 0 0 1 139.81 190.29 A3.0 3.0 0 0 1 134.19 190.29 A3.0 3.0 0 0 1 130.21 186.31 A3.0 3.0 0 0 1 130.21 180.69 A3.0 3.0 0 0 1 134.19 176.71 Z" fill="#fff" stroke-width="1.15"/>
<circle cx="137.0" cy="183.5" r="5.5" stroke-width="0.9"/>
<circle cx="137.0" cy="183.5" r="3.5" stroke-width="0.9"/>
<path stroke-width="0.6" d="M137.00 181.40 L137.65 182.61 L139.00 182.85 L138.05 183.84 L138.23 185.20 L137.00 184.60 L135.77 185.20 L135.95 183.84 L135.00 182.85 L136.35 182.61Z"/>
</g>
</g>
<!--ICONS-END-->
<g id="logo" fill="none" stroke-linecap="round" stroke-linejoin="round">
<path stroke="#111" stroke-width="3.2" d="M13.70 676.50 L13.70 687.10 M13.70 680.92 A4.42 4.42 0 0 1 22.55 680.92 L22.55 687.10 M22.55 680.92 A4.42 4.42 0 0 1 31.40 680.92 L31.40 687.10 M48.00 676.50 L48.00 687.10 M48.00 681.80 A5.35 5.30 0 1 1 37.30 681.80 A5.35 5.30 0 1 1 48.00 681.80 M53.90 670.90 L53.90 687.10 M53.90 683.2 L62.90 676.50 M57.60 680.8 L63.00 687.10 M79.30 676.50 L79.30 687.10 M79.30 681.80 A5.20 5.30 0 1 1 68.90 681.80 A5.20 5.30 0 1 1 79.30 681.80 M85.30 676.50 L85.30 687.10 M85.30 680.92 A4.43 4.43 0 0 1 94.15 680.92 L94.15 687.10 M94.15 680.92 A4.43 4.43 0 0 1 103.00 680.92 L103.00 687.10"/>
<path stroke="#b0b0b0" stroke-width="3" d="M110 676.7 L110 687.2"/>
<circle cx="110" cy="670.9" r="2.0" fill="#111" stroke="none"/>
<path stroke="#111" stroke-width="3" d="M116.4 676.4 L116.4 687.2"/>
<circle cx="116.6" cy="670.8" r="2.0" fill="#b0b0b0" stroke="none"/>
</g>
<!--LOGO-END-->
</svg>
</body>
</html>
